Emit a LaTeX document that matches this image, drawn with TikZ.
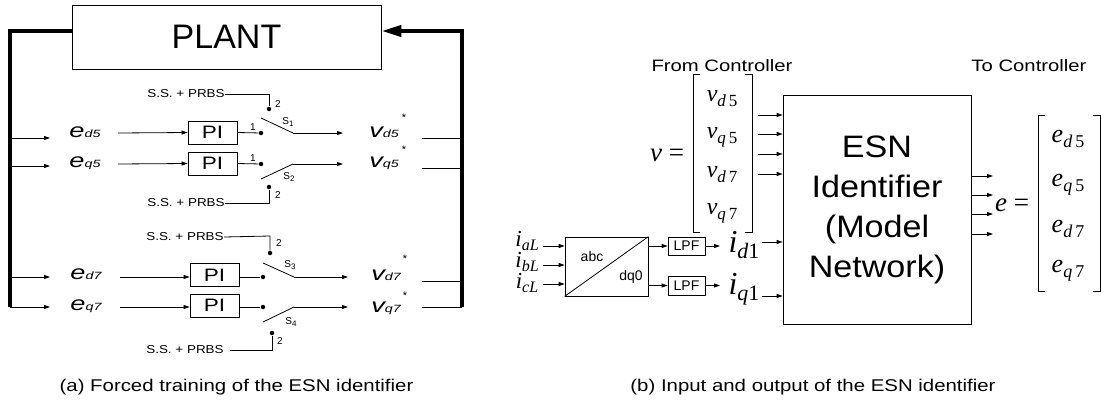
\documentclass[tikz,border=0pt]{standalone}
\usepackage{fontspec}
\usepackage{graphicx}
\setmainfont{Liberation Sans}
\newfontfamily\tms{Liberation Serif}
\usetikzlibrary{arrows.meta}
\newcommand\fs[1]{\fontsize{#1}{#1}\selectfont}
\newcommand\sx[2]{\scalebox{#1}[1]{#2}}
\newcommand\elab[2]{\sx{1.36}{\fs{20}\itshape #1{\fs{10.5}#2}}}
\newcommand\mv[5]{{\tms\fs{#1}\itshape #2\raisebox{-#5pt}{\fs{#3}#4}}}
\newcommand\swl[1]{S{\fs{8}\raisebox{-2.5pt}{#1}}}
\tikzset{
  arr/.style={-{Triangle[length=6pt,width=4pt]}},
  thickln/.style={line width=4pt},
  pibox/.style={draw, minimum width=49pt, minimum height=23pt, inner sep=0pt, font=\fs{18}},
  dot/.style={circle, fill, inner sep=0pt, minimum size=4.5pt},
  tiny/.style={inner sep=0pt, font=\fs{10}},
  ss/.style={inner sep=0pt, font=\fs{11.5}},
  lbl/.style={inner sep=0pt},
  star/.style={inner sep=0pt, font=\fs{11}},
  smallbox/.style={draw, inner sep=0pt, font=\fs{14}},
}
\begin{document}
\begin{tikzpicture}[x=1pt,y=-1pt, line width=0.8pt]
\useasboundingbox (0,0) rectangle (1102,404);
% ================= (a) =================
\node[draw, minimum width=309pt, minimum height=64pt, inner sep=0pt, font=\fs{34}] (plant) at (226.5,37) {PLANT};
\coordinate (lt) at (10,31);
\coordinate (lb) at (10,307);
\coordinate (rt) at (462,31);
\coordinate (rb) at (462,307);
\draw[thickln] ([yshift=6pt]plant.west) -- (lt) -- (lb);
\draw[thickln, -{Triangle[length=20pt,width=11pt]}] (rb) -- (rt) -- ([yshift=6pt]plant.east);

% ---- row 1
\node[lbl] (ed5) at (85,132) {\elab{e}{d5}};
\coordinate (b1) at (10,138); \coordinate (a1) at (50,138);
\draw[arr] (b1) -- (a1);
\node[pibox] (pi1) at (212.5,132.5) {\sx{1.25}{PI}};
\coordinate (i1) at (118,133);
\draw[arr] (i1) -- (pi1.west);
\node[dot] (d11) at (261,133) {};
\draw (pi1.east) -- (d11);
\node[tiny] (one1) at (253,127) {1};
\coordinate (bl1) at (261,118); \coordinate (p1) at (293,133);
\draw (bl1) -- (p1);
\coordinate (o1) at (343,133);
\draw[arr] (p1) -- (o1);
\node[lbl] (s1) at (288,122) {\swl{1}};
\node[dot] (d12) at (269,109) {};
\node[tiny] (two1) at (278,104) {2};
\node[ss] (ss1) at (186,94) {\sx{1.17}{S.S. + PRBS}};
\draw (ss1.east) -| (d12);
\node[lbl] (vd5) at (384,132) {\elab{v}{d5}};
\node[star] (st1) at (404,118) {*};
\coordinate (r1) at (422,138); \coordinate (q1) at (462,138);
\draw (r1) -- (q1);

% ---- row 2
\node[lbl] (eq5) at (85,163) {\elab{e}{q5}};
\coordinate (b2) at (10,166); \coordinate (a2) at (50,166);
\draw[arr] (b2) -- (a2);
\node[pibox] (pi2) at (212.5,163.5) {\sx{1.25}{PI}};
\coordinate (i2) at (118,164);
\draw[arr] (i2) -- (pi2.west);
\node[dot] (d21) at (261,164) {};
\draw (pi2.east) -- (d21);
\node[tiny] (one2) at (253,158) {1};
\coordinate (bl2) at (261,179); \coordinate (p2) at (293,164);
\draw (bl2) -- (p2);
\coordinate (o2) at (343,164);
\draw[arr] (p2) -- (o2);
\node[lbl] (s2) at (289,177) {\swl{2}};
\node[dot] (d22) at (269,187) {};
\node[tiny] (two2) at (278,195) {2};
\node[ss] (ss2) at (186,203) {\sx{1.17}{S.S. + PRBS}};
\draw (ss2.east) -| (d22);
\node[lbl] (vq5) at (384,163) {\elab{v}{q5}};
\node[star] (st2) at (404,150) {*};
\coordinate (r2) at (422,168); \coordinate (q2) at (462,168);
\draw (r2) -- (q2);

% ---- row 3
\node[ss] (ss3) at (185,237) {\sx{1.17}{S.S. + PRBS}};
\node[dot] (d32) at (270,253) {};
\draw (ss3.east) -- (270,236) -- (d32);
\node[tiny] (two3) at (279,243) {2};
\node[lbl] (ed7) at (86,274) {\elab{e}{d7}};
\coordinate (b3) at (10,277); \coordinate (a3) at (50,277);
\draw[arr] (b3) -- (a3);
\node[pibox] (pi3) at (214.5,275) {\sx{1.25}{PI}};
\coordinate (i3) at (120,277);
\draw[arr] (i3) -- (pi3.west |- i3);
\node[dot] (d31) at (263,277) {};
\draw (pi3.east |- d31) -- (d31);
\coordinate (bl3) at (263,263); \coordinate (p3) at (294,277);
\draw (bl3) -- (p3);
\coordinate (o3) at (348,277);
\draw[arr] (p3) -- (o3);
\node[lbl] (s3) at (290,265) {\swl{3}};
\node[lbl] (vd7) at (386,275) {\elab{v}{d7}};
\node[star] (st3) at (405,259) {*};
\coordinate (r3) at (422,281); \coordinate (q3) at (462,281);
\draw (r3) -- (q3);

% ---- row 4
\node[lbl] (eq7) at (86,306) {\elab{e}{q7}};
\coordinate (b4) at (10,307); \coordinate (a4) at (50,307);
\draw[arr] (b4) -- (a4);
\node[pibox] (pi4) at (214.5,305.5) {\sx{1.25}{PI}};
\coordinate (i4) at (120,307);
\draw[arr] (i4) -- (pi4.west |- i4);
\node[dot] (d41) at (263,307) {};
\draw (pi4.east |- d41) -- (d41);
\coordinate (bl4) at (263,322); \coordinate (p4) at (294,307);
\draw (bl4) -- (p4);
\coordinate (o4) at (348,307);
\draw[arr] (p4) -- (o4);
\node[lbl] (s4) at (291,322) {\swl{4}};
\node[dot] (d42) at (272,333) {};
\node[tiny] (two4) at (280,341) {2};
\node[ss] (ss4) at (185,350) {\sx{1.17}{S.S. + PRBS}};
\draw (230,350) -| (d42);
\node[lbl] (vq7) at (386,308) {\elab{v}{q7}};
\node[star] (st4) at (405,296) {*};
\coordinate (r4) at (422,307);
\draw (r4) -- (rb);

\node[lbl, font=\fs{17}] (capa) at (236.5,387) {\sx{1.2}{(a) Forced training of the ESN identifier}};

% ================= (b) =================
\node[lbl, font=\fs{16.5}] (fromc) at (722,66) {\sx{1.23}{From Controller}};
\node[lbl, font=\fs{16.5}] (toc) at (1029,66) {\sx{1.23}{To Controller}};

% v matrix
\draw (700,74) -- (693,74) -- (693,232) -- (700,232);
\draw (745,74) -- (752,74) -- (752,232) -- (745,232);
\node[lbl] (vd5m) at (722,99) {\mv{24}{v}{17}{d\,{\upshape 5}}{5}};
\node[lbl] (vq5m) at (722,137) {\mv{24}{v}{17}{q\,{\upshape 5}}{5}};
\node[lbl] (vd7m) at (722,175) {\mv{24}{v}{17}{d\,{\upshape 7}}{5}};
\node[lbl] (vq7m) at (722,213) {\mv{24}{v}{17}{q\,{\upshape 7}}{5}};
\node[lbl] (veq) at (667,155) {{\tms\fs{27}\itshape v\upshape\ =}};

% ESN box
\node[draw, minimum width=188pt, minimum height=229pt, inner sep=0pt, align=center, font=\fontsize{31}{40}\selectfont] (esn) at (877,209.5) {\sx{1.1}{ESN}\\\sx{1.1}{Identifier}\\\sx{1.1}{(Model}\\\sx{1.1}{Network)}};

\foreach \y [count=\k] in {115,134,154,174}{
  \coordinate (vi\k) at (758,\y);
  \draw[arr] (vi\k) -- (esn.west |- vi\k);
}
\foreach \y [count=\k] in {176,195,214,234}{
  \coordinate (eo\k) at (993,\y);
  \draw[arr] (esn.east |- eo\k) -- (eo\k);
}

% e matrix
\draw (1045,115) -- (1038,115) -- (1038,291) -- (1045,291);
\draw (1093,115) -- (1100,115) -- (1100,291) -- (1093,291);
\node[lbl] (ed5m) at (1068,139) {\mv{26}{e}{18}{d\,{\upshape 5}}{5}};
\node[lbl] (eq5m) at (1068,185) {\mv{26}{e}{18}{q\,{\upshape 5}}{5}};
\node[lbl] (ed7m) at (1068,229) {\mv{26}{e}{18}{d\,{\upshape 7}}{5}};
\node[lbl] (eq7m) at (1068,271) {\mv{26}{e}{18}{q\,{\upshape 7}}{5}};
\node[lbl] (eeq) at (1012,205) {{\tms\fs{27}\itshape e\upshape\ =}};

% abc/dq0
\node[draw, minimum width=83pt, minimum height=59pt, inner sep=0pt] (abc) at (606.5,266.5) {};
\draw (abc.south west) -- (abc.north east);
\node[lbl, font=\fs{14}] (abct) at (592,256) {abc};
\node[lbl, font=\fs{14}] (dqt) at (631,277) {dq0};

\node[lbl] (iaL) at (527,241) {\mv{23}{i}{16}{aL}{4}};
\node[lbl] (ibL) at (527,262) {\mv{23}{i}{16}{bL}{4}};
\node[lbl] (icL) at (527,283) {\mv{23}{i}{16}{cL}{4}};
\foreach \y [count=\k] in {246,265,284}{
  \coordinate (ai\k) at (543,\y);
  \draw[arr] (ai\k) -- (abc.west |- ai\k);
}

\node[smallbox, minimum width=37pt, minimum height=18pt] (lpf1) at (686.5,246) {LPF};
\node[smallbox, minimum width=37pt, minimum height=19pt] (lpf2) at (686.5,285.5) {LPF};
\draw[arr] (abc.east |- lpf1) -- (lpf1.west);
\draw[arr] (abc.east |- lpf2) -- (lpf2.west);
\coordinate (x1) at (720,246); \coordinate (x2) at (720,285.5);
\draw[arr] (lpf1.east) -- (x1);
\draw[arr] (lpf2.east) -- (x2);
\node[lbl] (id1) at (744,245) {\mv{32}{i}{22}{d{\upshape 1}}{6}};
\node[lbl] (iq1) at (744,289) {\mv{32}{i}{22}{q{\upshape 1}}{6}};
\coordinate (y1) at (762,242); \coordinate (y2) at (762,296);
\draw[arr] (y1) -- (esn.west |- y1);
\draw[arr] (y2) -- (esn.west |- y2);

\node[lbl, font=\fs{17}] (capb) at (813,387) {\sx{1.2}{(b) Input and output of the ESN identifier}};
\end{tikzpicture}
\end{document}
